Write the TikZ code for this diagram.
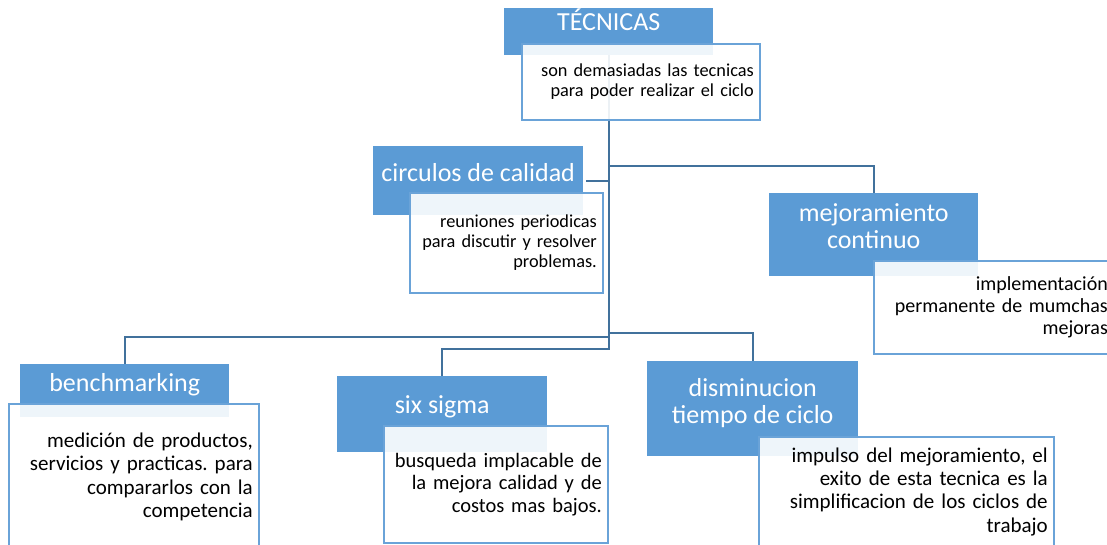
\documentclass[tikz,border=0pt]{standalone}
\usepackage{fontspec}
\setmainfont{Carlito}
\usetikzlibrary{backgrounds}
\frenchspacing

\definecolor{hblue}{HTML}{5B9BD5}
\definecolor{lblue}{HTML}{6AA3D8}
\definecolor{dblue}{HTML}{41719C}

\begin{document}
\begin{tikzpicture}[
    x=1pt, y=-1pt,
    head/.style={fill=hblue, text=white, font=\fontsize{26}{27}\selectfont,
        align=center, inner sep=0pt, text height=19pt, anchor=north west},
    desc/.style={draw=lblue, line width=1.6pt, fill=white, fill opacity=0.9,
        text opacity=1, align=right, inner xsep=6pt, inner ysep=0pt,
        anchor=north west},
    link/.style={draw=dblue, line width=1.8pt}
]
   \useasboundingbox (0,0) rectangle (1107,544);
   \clip (0,0) rectangle (1107,544);

   % Headers
   \node[head, minimum width=209pt, minimum height=47pt, text depth=21pt] (tec) at (504,8) {TÉCNICAS};
   \node[head, minimum width=210pt, minimum height=69pt, text depth=18pt] (cir) at (373,146) {circulos de calidad};
   \node[head, minimum width=209pt, minimum height=83pt, text height=46pt, text depth=19pt] (mej) at (769,193) {mejoramiento\\continuo};
   \node[head, minimum width=209pt, minimum height=53pt, text depth=17pt] (ben) at (20,364) {benchmarking};
   \node[head, minimum width=210pt, minimum height=76pt, text depth=21pt] (six) at (337,376) {six sigma};
   \node[head, minimum width=211pt, minimum height=95pt, text height=46pt, text depth=17pt] (dis) at (647,361) {disminucion\\tiempo de ciclo};

   % Descriptions
   \node[desc, text width=226pt, minimum height=76pt, font=\fontsize{18.3}{20}\selectfont] (tecd) at (521,43)
      {son demasiadas las tecnicas\\para poder realizar el ciclo};
   \node[desc, text width=181pt, minimum height=100pt, font=\fontsize{18.3}{20}\selectfont] (cird) at (409,192)
      {reuniones periodicas\\para discutir y resolver\\problemas.};
   \node[desc, text width=228pt, minimum height=93pt, font=\fontsize{20}{22}\selectfont] (mejd) at (873,260)
      {implementación\\permanente de mumchas\\mejoras};
   \node[desc, text width=238pt, minimum height=146pt, font=\fontsize{21}{23.3}\selectfont] (bend) at (8,403)
      {medición de productos,\\servicios y practicas. para\\compararlos con la\\competencia};
   \node[desc, text width=212pt, minimum height=117pt, font=\fontsize{20.5}{22.5}\selectfont] (sixd) at (383,425)
      {busqueda implacable de\\la mejora calidad y de\\costos mas bajos.};
   \node[desc, text width=283pt, minimum height=110pt, font=\fontsize{21}{23.3}\selectfont] (disd) at (758,436)
      {impulso del mejoramiento, el\\exito de esta tecnica es la\\simplificacion de los ciclos de\\trabajo};

   % Connectors
   \begin{pgfonlayer}{background}
   \draw[link] (tec.south) |- ([xshift=3pt]cir.east);
   \draw[link] (tec.south) |- ([yshift=27pt]mej.north) -- (mej.north);
   \draw[link] (tec.south) |- ([yshift=27pt]ben.north) -- (ben.north);
   \draw[link] (tec.south) |- ([yshift=27pt]six.north) -- (six.north);
   \draw[link] (tec.south) |- ([yshift=28pt]dis.north) -- (dis.north);
   \end{pgfonlayer}
\end{tikzpicture}
\end{document}
